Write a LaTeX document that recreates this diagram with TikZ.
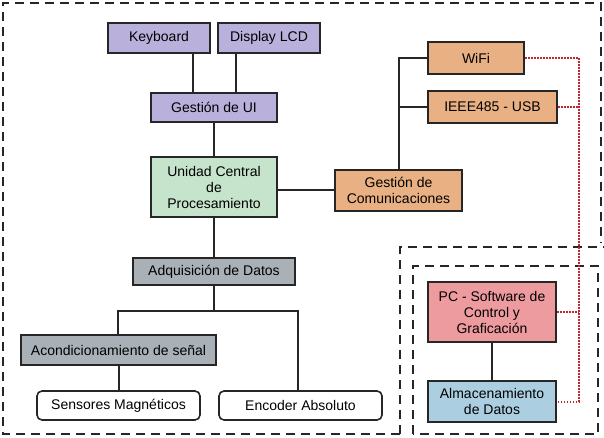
\documentclass[tikz,border=0pt]{standalone}
\usepackage{fontspec}
\setmainfont{Liberation Sans}
\definecolor{lav}{HTML}{B9B1DC}
\definecolor{grn}{HTML}{C6E4CC}
\definecolor{org}{HTML}{E9B183}
\definecolor{gry}{HTML}{A9B1B7}
\definecolor{pnk}{HTML}{EE9BA0}
\definecolor{blu}{HTML}{ABCFE0}
\definecolor{redd}{HTML}{C0282D}
\begin{document}
\begin{tikzpicture}[x=1pt,y=-1pt,
  blk/.style={draw=black!85,line width=2.4pt,font=\fontsize{14}{16}\selectfont,align=center,inner sep=0pt},
  rblk/.style={blk,fill=white,rounded corners=5pt,line width=1.6pt},
  conn/.style={draw=black!85,line width=2pt},
  frame/.style={draw=black!85,line width=2pt,dash pattern=on 9pt off 6pt},
  dot/.style={draw=redd,line width=2pt,dash pattern=on 1.5pt off 1.5pt}]
\useasboundingbox (0,0) rectangle (604,438);
% frames
\draw[frame] (400,434) -- (3,434) -- (3,3) -- (601,3) -- (601,243);
\draw[frame] (400,434) -- (400,247) -- (604,247);
\draw[frame] (413,434) -- (413,266) -- (598,266) -- (598,434) -- cycle;
% nodes
\node[blk,fill=lav,minimum width=102pt,minimum height=30pt] (kb) at (159,38) {Keyboard};
\node[blk,fill=lav,minimum width=102pt,minimum height=30pt] (lcd) at (269,38) {Display LCD};
\node[blk,fill=lav,minimum width=126pt,minimum height=29pt] (ui) at (214,107.5) {Gestión de UI};
\node[blk,fill=grn,minimum width=126pt,minimum height=60pt] (cpu) at (214,187) {Unidad Central\\de\\Procesamiento};
\node[blk,fill=org,minimum width=127pt,minimum height=41pt] (com) at (398.5,190.5) {Gestión de\\Comunicaciones};
\node[blk,fill=org,minimum width=96pt,minimum height=32pt] (wifi) at (476,58) {WiFi};
\node[blk,fill=org,minimum width=129pt,minimum height=32pt] (usb) at (492.5,107) {IEEE485 - USB};
\node[blk,fill=gry,minimum width=162pt,minimum height=27pt] (adq) at (214,271.5) {Adquisición de Datos};
\node[blk,fill=gry,minimum width=195pt,minimum height=30pt] (aco) at (118.5,350) {Acondicionamiento de señal};
\node[rblk,minimum width=163pt,minimum height=29pt] (sen) at (118.5,405.5) {Sensores Magnéticos};
\node[rblk,minimum width=163pt,minimum height=29pt] (enc) at (300.5,405.5) {Encoder Absoluto};
\node[blk,fill=pnk,minimum width=128pt,minimum height=60pt] (pc) at (492,312) {PC - Software de\\Control y\\Graficación};
\node[blk,fill=blu,minimum width=128pt,minimum height=41pt] (alm) at (492,401.5) {Almacenamiento\\de Datos};
% connectors
\draw[conn] (kb.south -| 193,0) -- (ui.north -| 193,0);
\draw[conn] (lcd.south -| 236,0) -- (ui.north -| 236,0);
\draw[conn] (ui) -- (cpu);
\draw[conn] (com.west) -- (com.west -| cpu.east);
\coordinate (cj) at (399,58);
\draw[conn] (com.north -| cj) -- (cj) -- (wifi.west);
\draw[conn] (cj |- usb.west) -- (usb.west);
\coordinate (aj) at (214,311);
\draw[conn] (adq) -- (cpu);
\draw[conn] (adq.south) -- (aj);
\draw[conn] (aco.north -| 118,0) -- (118,311) -- (298,311) -- (enc.north -| 298,0);
\draw[conn] (aco) -- (sen);
\draw[conn] (pc) -- (alm);
\coordinate (rv) at (579,58);
\draw[dot] (wifi.east) -- (rv) -- (rv |- alm.east) -- (alm.east);
\draw[dot] (usb.east) -- (rv |- usb.east);
\draw[dot] (pc.east) -- (rv |- pc.east);
\end{tikzpicture}
\end{document}
